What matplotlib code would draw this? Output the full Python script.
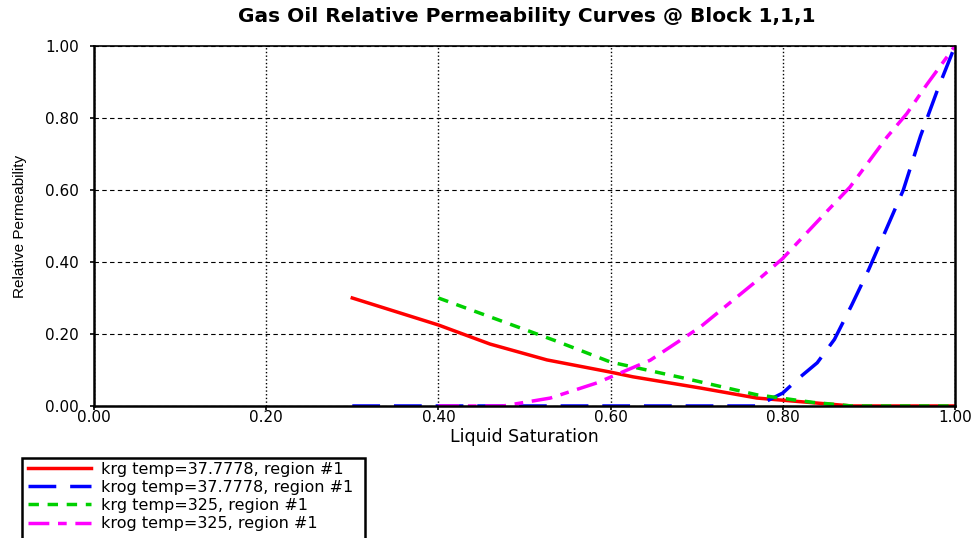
import matplotlib.pyplot as plt
from matplotlib.patches import Rectangle

plt.rcParams['font.family'] = ['DejaVu Sans']

# krg, temp=37.7778
sl_krg_a = [0.30, 0.40, 0.46, 0.526, 0.60, 0.626, 0.704, 0.77, 0.80, 0.88, 1.00]
krg_a = [0.30, 0.225, 0.172, 0.128, 0.094, 0.081, 0.050, 0.022, 0.016, 0.0, 0.0]

# krog, temp=37.7778
sl_krog_a = [0.30, 0.77, 0.80, 0.82, 0.84, 0.86, 0.88, 0.90, 0.92, 0.94, 0.96, 0.98, 1.00]
krog_a = [0.0, 0.0, 0.036, 0.08, 0.12, 0.185, 0.28, 0.38, 0.49, 0.60, 0.75, 0.88, 1.00]

# krg, temp=325
sl_krg_b = [0.40, 0.535, 0.60, 0.684, 0.77, 0.835, 0.88, 1.00]
krg_b = [0.30, 0.182, 0.122, 0.078, 0.031, 0.010, 0.0, 0.0]

# krog, temp=325
sl_krog_b = [0.40, 0.475, 0.53, 0.584, 0.646, 0.704, 0.774, 0.80, 0.851, 0.878,
             0.921, 0.944, 0.967, 1.00]
krog_b = [0.0, 0.0, 0.022, 0.064, 0.127, 0.219, 0.356, 0.41, 0.54, 0.608,
          0.747, 0.812, 0.892, 1.00]

labels = ["krg temp=37.7778, region #1", "krog temp=37.7778, region #1",
          "krg temp=325, region #1", "krog temp=325, region #1"]

fig = plt.figure(figsize=(9.71, 5.38), dpi=100)
ax = fig.add_axes([0.0968, 0.2454, 0.8867, 0.6691])

lw = 2.5
ax.plot(sl_krg_a, krg_a, color='#ff0000', lw=lw, label=labels[0])
ax.plot(sl_krog_a, krog_a, color='#0000ff', lw=lw, dashes=(8, 4), label=labels[1])
ax.plot(sl_krg_b, krg_b, color='#00d000', lw=lw, dashes=(3, 2.5), label=labels[2])
ax.plot(sl_krog_b, krog_b, color='#ff00ff', lw=lw, dashes=(6, 2.5, 2.5, 2.5), label=labels[3])

ax.set_xlim(0, 1)
ax.set_ylim(0, 1)
ticks = [0, 0.2, 0.4, 0.6, 0.8, 1.0]
ax.set_xticks(ticks)
ax.set_yticks(ticks)
ax.set_xticklabels([f"{t:.2f}" for t in ticks])
ax.set_yticklabels([f"{t:.2f}" for t in ticks])
ax.tick_params(labelsize=11, direction='out', length=3, width=1.2)
ax.tick_params(axis='x', pad=0)
ax.tick_params(axis='y', pad=8)
ax.xaxis.grid(True, linestyle=':', color='black', lw=1)
ax.yaxis.grid(True, linestyle='--', color='black', lw=0.8, dashes=(4, 3))
for s in ax.spines.values():
    s.set_linewidth(1.8)
ax.spines['top'].set_linewidth(1.2)

ax.set_xlabel("Liquid Saturation", fontsize=12.5, labelpad=2)
ax.set_ylabel("Relative Permeability", fontsize=11, family='Liberation Sans')
ax.yaxis.set_label_coords(-0.078, 0.5)
fig.text(527 / 971, 1 - 17 / 538, "Gas Oil Relative Permeability Curves @ Block 1,1,1",
         ha='center', va='center', fontsize=14.5, fontweight='bold')

# legend box runs past the bottom edge
fig.patches.append(Rectangle((22 / 971, -0.02), (365 - 22) / 971, (538 - 458) / 538 + 0.02,
                             transform=fig.transFigure, fill=False, ec='black', lw=1.8))
leg = fig.legend(loc='upper left', bbox_to_anchor=(18 / 971, 1 - 452 / 538),
                 frameon=False, fontsize=11.5, handlelength=4.0, handletextpad=0.6,
                 labelspacing=0.2, borderpad=0.1)

fig.savefig("out.png", dpi=100)
